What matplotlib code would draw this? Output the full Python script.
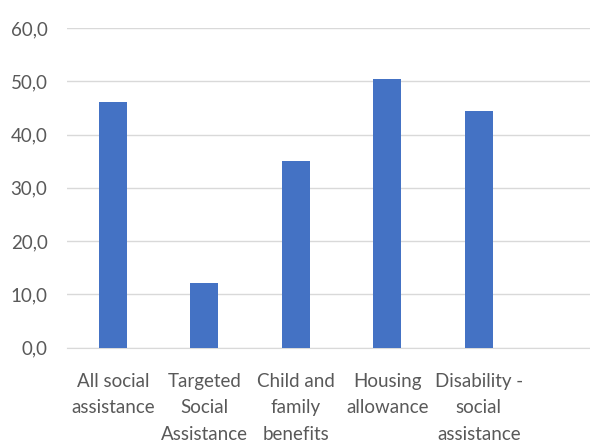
import matplotlib
matplotlib.use('Agg')
import matplotlib.pyplot as plt
from matplotlib.ticker import FuncFormatter

categories = ['All social\nassistance', 'Targeted\nSocial\nAssistance', 'Child and\nfamily\nbenefits',
              'Housing\nallowance', 'Disability -\nsocial\nassistance']
values = [46.1, 12.1, 35.0, 50.4, 44.4]
yticks = [0, 10, 20, 30, 40, 50, 60]

plt.rcParams['font.family'] = ['Lato', 'DejaVu Sans']

fig = plt.figure(figsize=(5.9, 4.45), dpi=100)
ax = fig.add_axes([0.1136, 0.2187, 0.8864, 0.7183])

x = list(range(len(categories)))
ax.bar(x, values, width=0.31, color='#4472C4', zorder=3)

ax.set_ylim(0, 60)
ax.set_xlim(-0.5, 5.216)
ax.set_yticks(yticks)
ax.yaxis.set_major_formatter(FuncFormatter(lambda v, p: f'{v:.1f}'.replace('.', ',')))
ax.set_xticks(x)
ax.set_xticklabels(categories, linespacing=1.7)

ax.grid(axis='y', color='#D9D9D9', linewidth=1, zorder=0)
for s in ['top', 'right', 'left']:
    ax.spines[s].set_visible(False)
ax.spines['bottom'].set_color('#D9D9D9')
ax.tick_params(axis='both', length=0, labelsize=13.5, labelcolor='#595959')
ax.tick_params(axis='y', pad=14)
ax.tick_params(axis='x', pad=18)

fig.savefig('out.png', dpi=100)
